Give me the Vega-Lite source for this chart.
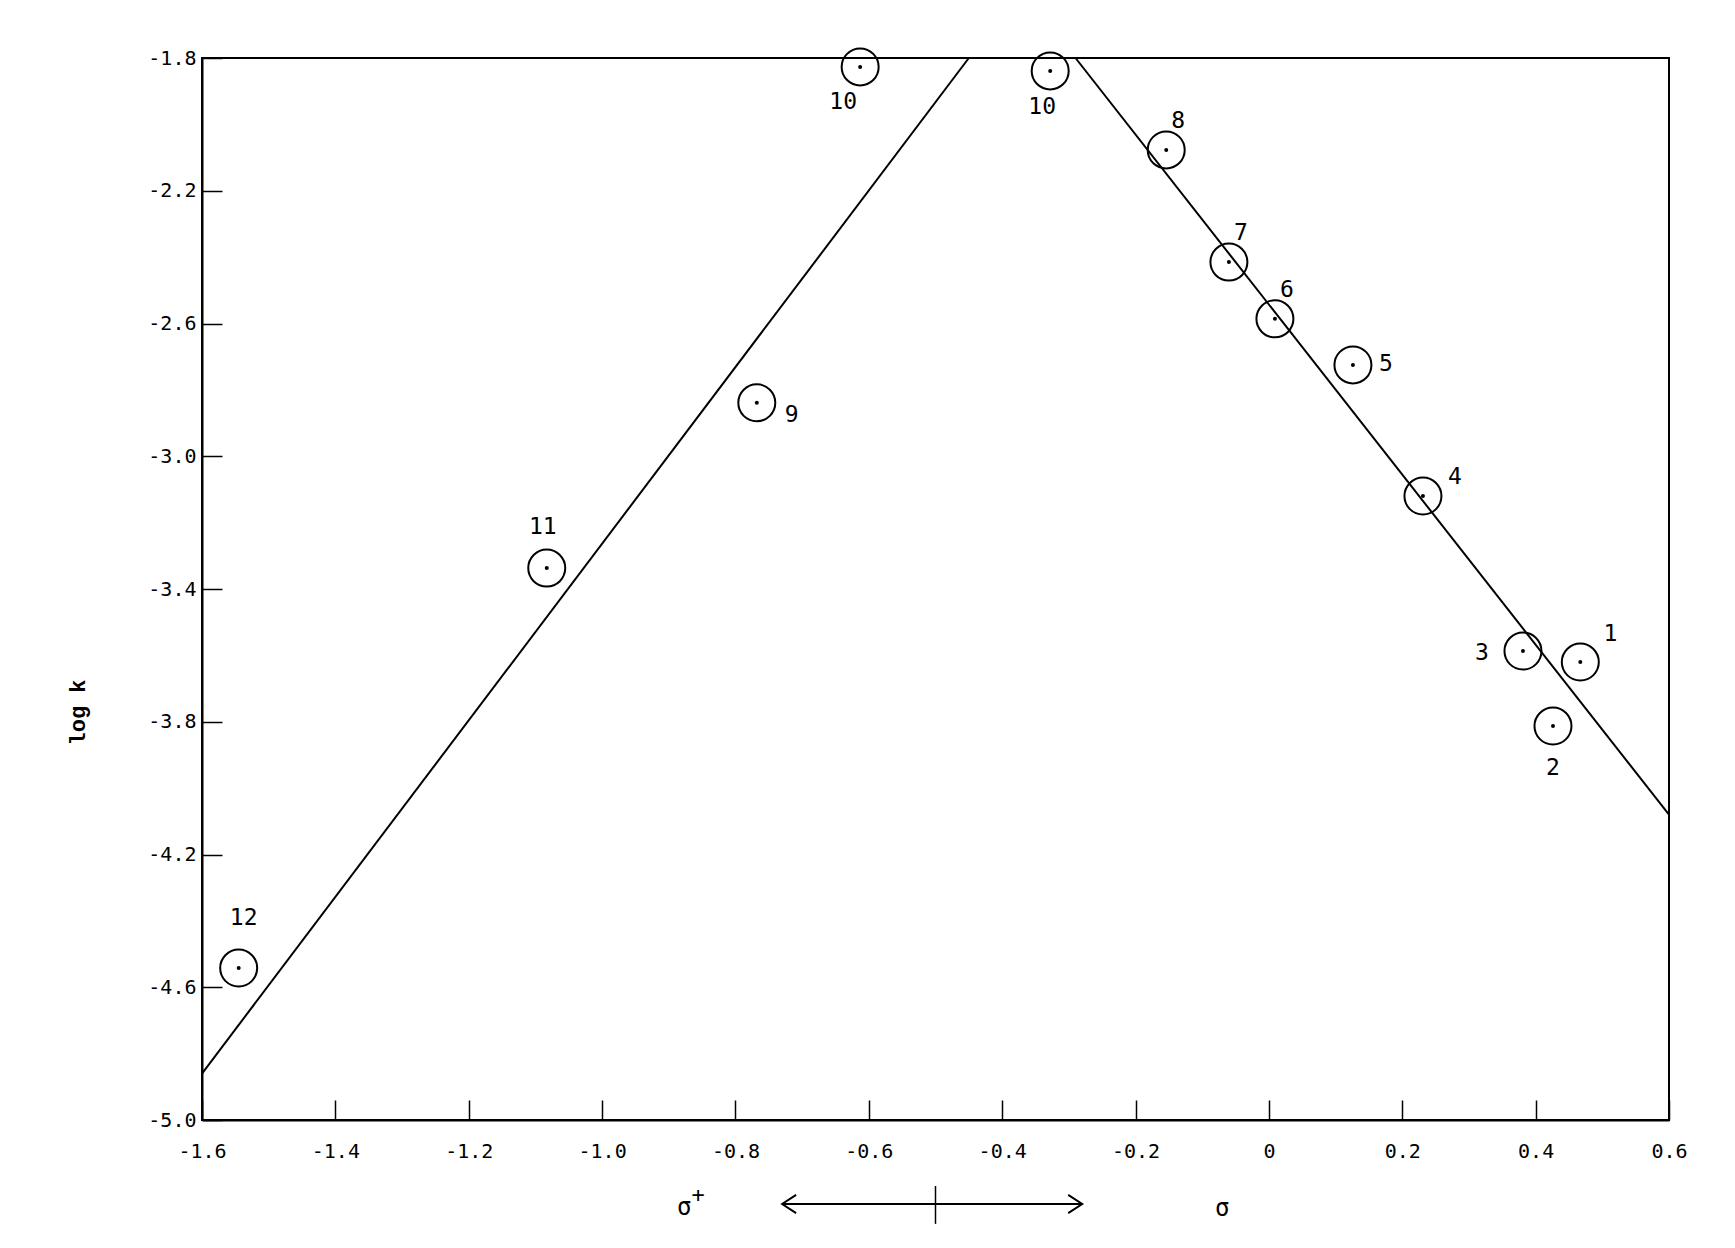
{
  "$schema": "https://vega.github.io/schema/vega-lite/v6.json",
  "autosize": {"type": "none"},
  "width": 1467,
  "height": 1062,
  "padding": {"left": 202, "top": 58, "right": 66, "bottom": 128},
  "background": "white",
  "config": {
    "view": {"stroke": "black", "strokeWidth": 2},
    "axis": {
      "grid": false,
      "domainColor": "black",
      "domainWidth": 2,
      "tickColor": "black",
      "tickWidth": 1.5,
      "tickSize": -20,
      "labelColor": "black",
      "labelFont": "DejaVu Sans Mono",
      "labelFontSize": 20,
      "labelFlush": false,
      "labelOverlap": false
    },
    "text": {"font": "DejaVu Sans Mono", "fontSize": 23, "color": "black", "align": "center", "baseline": "middle"}
  },
  "datasets": {
    "points": [
      {"id": "1", "label": "1", "sigma": 0.467, "logk": -3.620},
      {"id": "2", "label": "2", "sigma": 0.426, "logk": -3.813},
      {"id": "3", "label": "3", "sigma": 0.381, "logk": -3.587},
      {"id": "4", "label": "4", "sigma": 0.231, "logk": -3.120},
      {"id": "5", "label": "5", "sigma": 0.126, "logk": -2.725},
      {"id": "6", "label": "6", "sigma": 0.009, "logk": -2.586},
      {"id": "7", "label": "7", "sigma": -0.060, "logk": -2.415},
      {"id": "8", "label": "8", "sigma": -0.154, "logk": -2.077},
      {"id": "9", "label": "9", "sigma": -0.768, "logk": -2.839},
      {"id": "10a", "label": "10", "sigma": -0.613, "logk": -1.827},
      {"id": "10b", "label": "10", "sigma": -0.328, "logk": -1.839},
      {"id": "11", "label": "11", "sigma": -1.083, "logk": -3.337},
      {"id": "12", "label": "12", "sigma": -1.545, "logk": -4.542}
    ],
    "fits": [
      {"line": "left", "sigma": -1.6, "logk": -4.86},
      {"line": "left", "sigma": -0.45, "logk": -1.8},
      {"line": "right", "sigma": -0.29, "logk": -1.8},
      {"line": "right", "sigma": 0.6, "logk": -4.08}
    ],
    "xlabels": [
      {"text": "σ", "sup": "+", "sigma": -0.877, "logk": -5.266},
      {"text": "σ", "sup": "", "sigma": -0.070, "logk": -5.268}
    ],
    "arrow": [
      {"sigma": -0.73, "sigma_end": -0.28, "logk": -5.253}
    ],
    "divider": [
      {"sigma": -0.5, "logk": -5.199, "logk_end": -5.313}
    ]
  },
  "layer": [
    {
      "data": {"name": "fits"},
      "mark": {"type": "line", "color": "black", "strokeWidth": 2},
      "encoding": {
        "x": {
          "field": "sigma", "type": "quantitative",
          "scale": {"domain": [-1.6, 0.6], "nice": false, "zero": false},
          "axis": {
            "title": null,
            "values": [-1.6, -1.4, -1.2, -1.0, -0.8, -0.6, -0.4, -0.2, 0, 0.2, 0.4, 0.6],
            "labelExpr": "datum.value == 0 ? '0' : replace(format(datum.value, '.1f'), '−', '-')",
            "labelBaseline": "middle",
            "labelPadding": 51
          }
        },
        "y": {
          "field": "logk", "type": "quantitative",
          "scale": {"domain": [-5.0, -1.8], "nice": false, "zero": false},
          "axis": {
            "title": "log k",
            "values": [-5.0, -4.6, -4.2, -3.8, -3.4, -3.0, -2.6, -2.2, -1.8],
            "labelExpr": "replace(format(datum.value, '.1f'), '−', '-')",
            "labelPadding": 26,
            "titleFont": "Liberation Mono",
            "titleFontWeight": "bold",
            "titleFontSize": 22,
            "titleColor": "black",
            "titleX": -125,
            "titleY": 654,
            "titleAngle": -90,
            "titleAlign": "center",
            "titleBaseline": "middle"
          }
        },
        "detail": {"field": "line", "type": "nominal"}
      }
    },
    {
      "data": {"name": "points"},
      "mark": {"type": "point", "shape": "circle", "size": 1369, "filled": false, "color": "black", "strokeWidth": 2, "opacity": 1},
      "encoding": {
        "x": {"field": "sigma", "type": "quantitative"},
        "y": {"field": "logk", "type": "quantitative"}
      }
    },
    {
      "data": {"name": "points"},
      "mark": {"type": "point", "shape": "circle", "size": 16, "filled": true, "color": "black", "opacity": 1},
      "encoding": {
        "x": {"field": "sigma", "type": "quantitative"},
        "y": {"field": "logk", "type": "quantitative"}
      }
    },
    {
      "data": {"name": "points"},
      "transform": [{"filter": {"field": "id", "oneOf": ["10a"]}}],
      "mark": {"type": "text", "dx": -17, "dy": 35},
      "encoding": {"x": {"field": "sigma", "type": "quantitative"}, "y": {"field": "logk", "type": "quantitative"}, "text": {"field": "label"}}
    },
    {
      "data": {"name": "points"},
      "transform": [{"filter": {"field": "id", "oneOf": ["10b"]}}],
      "mark": {"type": "text", "dx": -8, "dy": 36},
      "encoding": {"x": {"field": "sigma", "type": "quantitative"}, "y": {"field": "logk", "type": "quantitative"}, "text": {"field": "label"}}
    },
    {
      "data": {"name": "points"},
      "transform": [{"filter": {"field": "id", "oneOf": ["6", "7", "8"]}}],
      "mark": {"type": "text", "dx": 12, "dy": -29},
      "encoding": {"x": {"field": "sigma", "type": "quantitative"}, "y": {"field": "logk", "type": "quantitative"}, "text": {"field": "label"}}
    },
    {
      "data": {"name": "points"},
      "transform": [{"filter": {"field": "id", "oneOf": ["1"]}}],
      "mark": {"type": "text", "dx": 30, "dy": -28},
      "encoding": {"x": {"field": "sigma", "type": "quantitative"}, "y": {"field": "logk", "type": "quantitative"}, "text": {"field": "label"}}
    },
    {
      "data": {"name": "points"},
      "transform": [{"filter": {"field": "id", "oneOf": ["4"]}}],
      "mark": {"type": "text", "dx": 32, "dy": -19},
      "encoding": {"x": {"field": "sigma", "type": "quantitative"}, "y": {"field": "logk", "type": "quantitative"}, "text": {"field": "label"}}
    },
    {
      "data": {"name": "points"},
      "transform": [{"filter": {"field": "id", "oneOf": ["5"]}}],
      "mark": {"type": "text", "dx": 33, "dy": -1},
      "encoding": {"x": {"field": "sigma", "type": "quantitative"}, "y": {"field": "logk", "type": "quantitative"}, "text": {"field": "label"}}
    },
    {
      "data": {"name": "points"},
      "transform": [{"filter": {"field": "id", "oneOf": ["9"]}}],
      "mark": {"type": "text", "dx": 35, "dy": 12},
      "encoding": {"x": {"field": "sigma", "type": "quantitative"}, "y": {"field": "logk", "type": "quantitative"}, "text": {"field": "label"}}
    },
    {
      "data": {"name": "points"},
      "transform": [{"filter": {"field": "id", "oneOf": ["3"]}}],
      "mark": {"type": "text", "dx": -41, "dy": 2},
      "encoding": {"x": {"field": "sigma", "type": "quantitative"}, "y": {"field": "logk", "type": "quantitative"}, "text": {"field": "label"}}
    },
    {
      "data": {"name": "points"},
      "transform": [{"filter": {"field": "id", "oneOf": ["2"]}}],
      "mark": {"type": "text", "dx": 0, "dy": 42},
      "encoding": {"x": {"field": "sigma", "type": "quantitative"}, "y": {"field": "logk", "type": "quantitative"}, "text": {"field": "label"}}
    },
    {
      "data": {"name": "points"},
      "transform": [{"filter": {"field": "id", "oneOf": ["11"]}}],
      "mark": {"type": "text", "dx": -4, "dy": -41},
      "encoding": {"x": {"field": "sigma", "type": "quantitative"}, "y": {"field": "logk", "type": "quantitative"}, "text": {"field": "label"}}
    },
    {
      "data": {"name": "points"},
      "transform": [{"filter": {"field": "id", "oneOf": ["12"]}}],
      "mark": {"type": "text", "dx": 5, "dy": -50},
      "encoding": {"x": {"field": "sigma", "type": "quantitative"}, "y": {"field": "logk", "type": "quantitative"}, "text": {"field": "label"}}
    },
    {
      "data": {"name": "xlabels"},
      "mark": {"type": "text", "fontSize": 24},
      "encoding": {"x": {"field": "sigma", "type": "quantitative"}, "y": {"field": "logk", "type": "quantitative"}, "text": {"field": "text"}}
    },
    {
      "data": {"name": "xlabels"},
      "mark": {"type": "text", "fontSize": 22, "dx": 14, "dy": -13},
      "encoding": {"x": {"field": "sigma", "type": "quantitative"}, "y": {"field": "logk", "type": "quantitative"}, "text": {"field": "sup"}}
    },
    {
      "data": {"name": "arrow"},
      "mark": {"type": "rule", "color": "black", "strokeWidth": 2},
      "encoding": {"x": {"field": "sigma", "type": "quantitative"}, "x2": {"field": "sigma_end"}, "y": {"field": "logk", "type": "quantitative"}}
    },
    {
      "data": {"name": "arrow"},
      "mark": {"type": "point", "shape": "M1,-0.65L0,0L1,0.65", "size": 784, "filled": false, "color": "black", "strokeWidth": 2, "opacity": 1},
      "encoding": {"x": {"field": "sigma", "type": "quantitative"}, "y": {"field": "logk", "type": "quantitative"}}
    },
    {
      "data": {"name": "arrow"},
      "mark": {"type": "point", "shape": "M-1,-0.65L0,0L-1,0.65", "size": 784, "filled": false, "color": "black", "strokeWidth": 2, "opacity": 1},
      "encoding": {"x": {"field": "sigma_end", "type": "quantitative"}, "y": {"field": "logk", "type": "quantitative"}}
    },
    {
      "data": {"name": "divider"},
      "mark": {"type": "rule", "color": "black", "strokeWidth": 1.5},
      "encoding": {"x": {"field": "sigma", "type": "quantitative"}, "y": {"field": "logk", "type": "quantitative"}, "y2": {"field": "logk_end"}}
    }
  ]
}
